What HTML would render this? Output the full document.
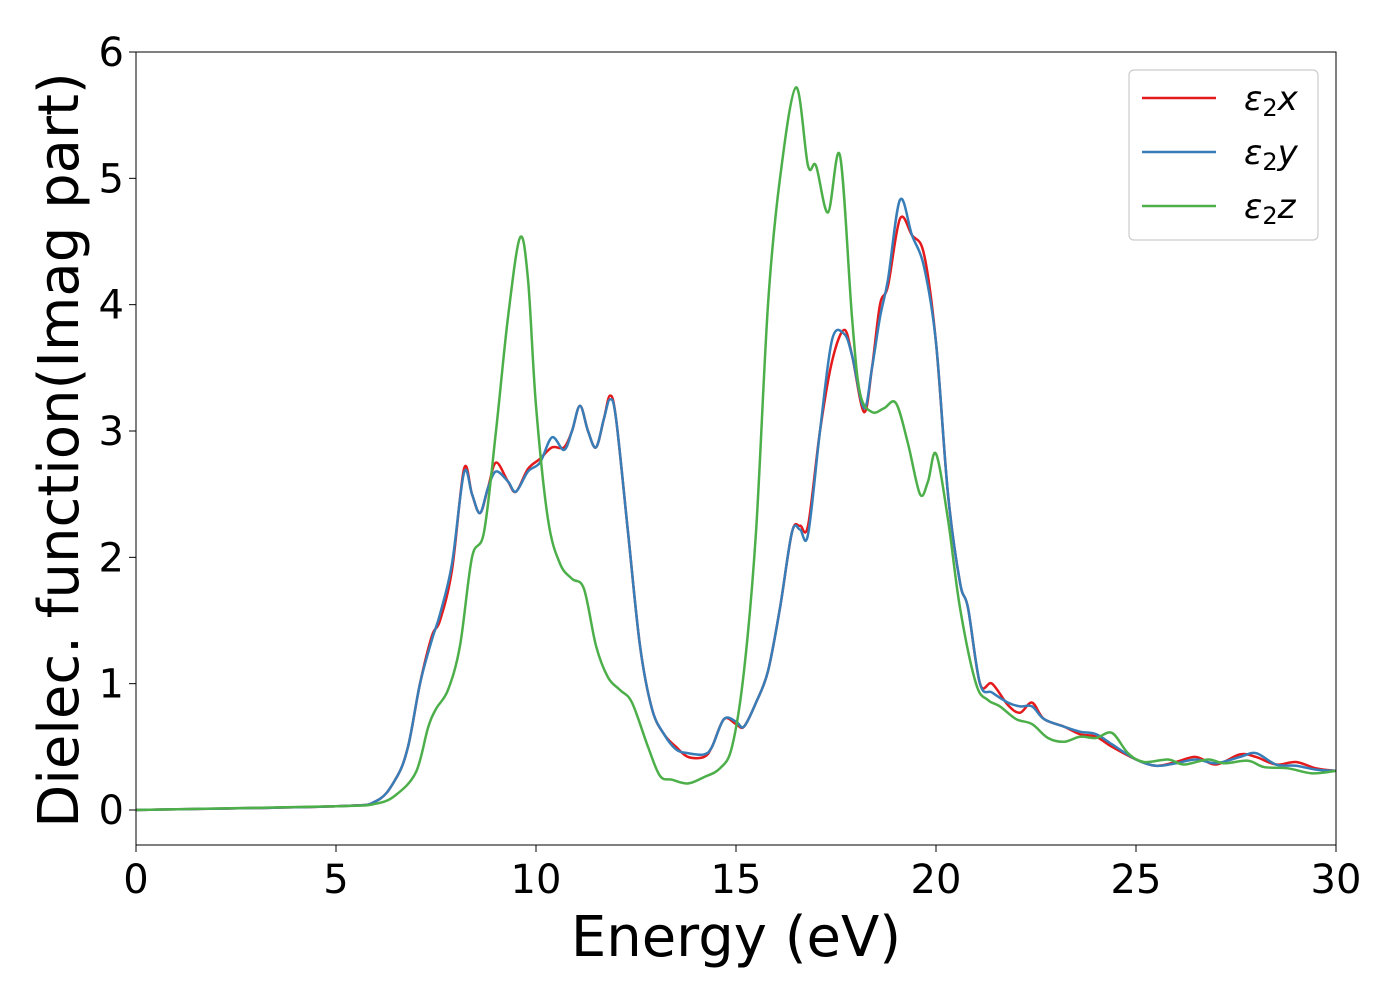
<!DOCTYPE html>
<html><head><meta charset="utf-8"><style>
html,body{margin:0;padding:0;background:#fff;width:1400px;height:1000px;overflow:hidden}
text{font-family:"DejaVu Sans","Liberation Sans",sans-serif}
</style></head><body>
<svg id="chart" width="1400" height="1000" xmlns="http://www.w3.org/2000/svg"></svg>
<script>
const xTicks=[0,5,10,15,20,25,30];
const yTicks=[0,1,2,3,4,5,6];
const seriesNames=["x","y","z"];
const seriesColors=["#e41a1c","#377eb8","#4daf4a"];
const redE=[0,5,6,6.5,6.8,7.1,7.4,7.6,7.9,8.2,8.4,8.6,8.8,9.0,9.3,9.5,9.8,10.1,10.4,10.7,10.9,11.1,11.3,11.5,11.7,11.85,12.0,12.3,12.6,12.9,13.2,13.5,13.8,14.2,14.4,14.7,15.0,15.2,15.5,15.8,16.1,16.4,16.6,16.8,17.1,17.4,17.7,17.9,18.2,18.4,18.6,18.8,19.1,19.4,19.7,20.0,20.3,20.6,20.8,21.1,21.4,21.8,22.1,22.4,22.7,23.2,23.6,24.0,24.4,25.0,25.5,26.0,26.5,27.0,27.6,28.0,28.5,29.0,29.5,30];
const redV=[0,0.03,0.07,0.25,0.5,1.0,1.38,1.5,1.9,2.7,2.5,2.35,2.55,2.75,2.6,2.52,2.7,2.78,2.87,2.87,3.0,3.2,3.0,2.87,3.1,3.28,3.1,2.2,1.3,0.8,0.6,0.5,0.42,0.42,0.5,0.72,0.68,0.66,0.85,1.1,1.6,2.2,2.25,2.25,3.0,3.55,3.8,3.6,3.15,3.5,4.0,4.15,4.68,4.55,4.4,3.7,2.5,1.8,1.6,1.0,1.0,0.83,0.77,0.85,0.72,0.66,0.6,0.58,0.5,0.4,0.35,0.38,0.42,0.36,0.44,0.42,0.36,0.38,0.33,0.31];
const blueE=redE;
const blueV=[0,0.03,0.07,0.25,0.5,1.0,1.35,1.55,1.95,2.67,2.5,2.35,2.55,2.68,2.6,2.52,2.68,2.75,2.95,2.85,3.0,3.2,3.0,2.87,3.1,3.25,3.1,2.2,1.3,0.8,0.6,0.48,0.45,0.44,0.5,0.72,0.7,0.66,0.85,1.1,1.6,2.2,2.22,2.18,3.0,3.72,3.77,3.6,3.18,3.5,3.9,4.2,4.83,4.55,4.3,3.7,2.5,1.8,1.6,1.0,0.93,0.85,0.82,0.82,0.72,0.66,0.62,0.6,0.52,0.4,0.35,0.37,0.4,0.37,0.42,0.45,0.36,0.35,0.32,0.31];
const greenE=[0,5,6,6.5,7,7.3,7.5,7.8,8.1,8.4,8.7,9.0,9.3,9.6,9.8,10.0,10.3,10.6,10.9,11.2,11.5,11.8,12.1,12.4,12.8,13.1,13.4,13.8,14.2,14.6,14.9,15.2,15.5,15.8,16.1,16.5,16.8,17.0,17.3,17.6,17.9,18.1,18.4,18.7,19.0,19.3,19.6,19.8,20.0,20.3,20.6,21.0,21.3,21.6,22.0,22.4,22.8,23.2,23.6,24.0,24.4,24.8,25.2,25.8,26.2,26.8,27.2,27.8,28.2,28.8,29.4,30];
const greenV=[0,0.03,0.05,0.12,0.3,0.65,0.8,0.95,1.3,2.0,2.2,3.0,3.9,4.53,4.2,3.2,2.3,1.95,1.83,1.75,1.3,1.05,0.95,0.85,0.5,0.27,0.24,0.21,0.26,0.33,0.5,1.1,2.2,4.0,5.0,5.72,5.1,5.1,4.73,5.18,3.9,3.3,3.15,3.18,3.22,2.9,2.5,2.6,2.82,2.3,1.6,1.0,0.87,0.82,0.72,0.68,0.57,0.54,0.58,0.57,0.61,0.45,0.38,0.4,0.36,0.4,0.37,0.39,0.34,0.33,0.29,0.31];
const L=136,R=1336,T=52,B=845;
const X=v=>L+(v-0)/30*(R-L);
const Y=v=>810-v*(810-52)/6;
const svg=document.getElementById('chart');
const NS="http://www.w3.org/2000/svg";
function mk(tag,attrs,parent){const e=document.createElementNS(NS,tag);for(const k in attrs)e.setAttribute(k,attrs[k]);(parent||svg).appendChild(e);return e;}
function path(E,V){const p=E.map((e,i)=>[X(e),Y(V[i])]);let d=`M${p[0][0]},${p[0][1]}`;
for(let i=0;i<p.length-1;i++){const p0=p[i-1]||p[i],p1=p[i],p2=p[i+1],p3=p[i+2]||p2;
d+=` C${p1[0]+(p2[0]-p0[0])/6},${p1[1]+(p2[1]-p0[1])/6} ${p2[0]-(p3[0]-p1[0])/6},${p2[1]-(p3[1]-p1[1])/6} ${p2[0]},${p2[1]}`;}return d;}
const clip=mk('clipPath',{id:'cp'});mk('rect',{x:L,y:T,width:R-L,height:B-T},clip);
const data=[[redE,redV],[blueE,blueV],[greenE,greenV]];
const g=mk('g',{'clip-path':'url(#cp)'});

data.forEach((s,i)=>{const p=mk('path',{d:path(s[0],s[1]),fill:'none',stroke:seriesColors[i],'stroke-width':2.5},g);

});
const frame=mk('rect',{x:L,y:T,width:R-L,height:B-T,fill:'none',stroke:'#000','stroke-width':1});

xTicks.forEach(t=>{mk('line',{x1:X(t),x2:X(t),y1:B,y2:B+7,stroke:'#000'});
const tx=mk('text',{x:X(t),y:B+48,'font-size':40,'text-anchor':'middle'});tx.textContent=t;
});
yTicks.forEach(t=>{mk('line',{x1:L-7,x2:L,y1:Y(t),y2:Y(t),stroke:'#000'});
const tx=mk('text',{x:L-12,y:Y(t)+14,'font-size':40,'text-anchor':'end'});tx.textContent=t;
});
const xt=mk('text',{x:736,y:956,'font-size':56,'text-anchor':'middle'});xt.textContent='Energy (eV)';

const yt=mk('text',{x:0,y:0,'font-size':56,'text-anchor':'middle',transform:'translate(78,450) rotate(-90)'});yt.textContent='Dielec. function(Imag part)';

const lg=mk('g',{});
mk('rect',{x:1129,y:70,width:189,height:170,rx:5,fill:'#fff',stroke:'#ccc','stroke-width':1.2},lg);
seriesNames.forEach((n,i)=>{const y=98+i*54;
mk('line',{x1:1142,x2:1216,y1:y,y2:y,stroke:seriesColors[i],'stroke-width':2.5},lg);
const t=mk('text',{x:1244,y:y+12,'font-size':34,'font-style':'italic'},lg);
t.innerHTML='ε<tspan font-style="normal" font-size="24" dy="6">2</tspan><tspan dy="-6">'+n+'</tspan>';
});
</script>
</body></html>
